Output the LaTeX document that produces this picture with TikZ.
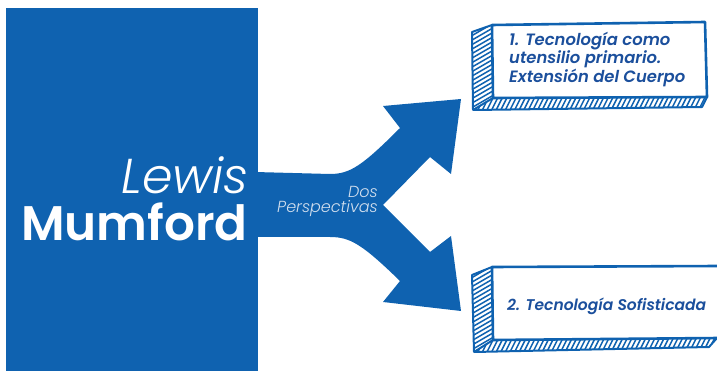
\documentclass[tikz,border=0pt]{standalone}
\usepackage{fontspec}
\setmainfont{Poppins}
\newfontfamily\lewisfont{Poppins Light Italic}
\newfontfamily\boldfont{Poppins SemiBold}
\newfontfamily\boxfont{Poppins SemiBold Italic}
\definecolor{mblue}{HTML}{0F62B0}
\definecolor{tblue}{HTML}{1B4F9C}
\definecolor{pale}{HTML}{D2DFEE}
\tikzset{
  sideline/.style={draw=mblue, line width=2pt, line join=round},
  hatch/.style={draw=mblue, line width=1.5pt},
  front/.style={draw=mblue, line width=2.6pt, line join=round, fill=white},
  boxtext/.style={font=\boxfont\fontsize{16.4}{16.6}\selectfont, text=tblue, align=left, inner sep=0pt, anchor=north west},
}
\begin{document}
\begin{tikzpicture}[x=1pt,y=-1pt]
\useasboundingbox (0,0) rectangle (717,371);
% main panel
\fill[mblue] (6,8) rectangle (258,371);
% forked arrow
\fill[mblue] (255,172) -- (330,174) .. controls (350,174) and (362,166) .. (400,128)
  -- (383,106) -- (461,99) -- (451,174) -- (430,157) -- (383,205) -- (430,252)
  -- (451,236) -- (461,311) -- (383,302) -- (400,281)
  .. controls (362,244) and (350,237) .. (330,237) -- (255,237) -- cycle;
% title
\node[anchor=base east, text=white, inner sep=0pt, font=\lewisfont\fontsize{49}{49}\selectfont] (lewis) at (249,194) {Lewis};
\node[anchor=base east, text=white, inner sep=0pt, font=\boldfont\fontsize{48.5}{48.5}\selectfont] (mumford) at (248,241) {Mumford};
% label
\node[anchor=north east, text=pale, inner sep=0pt, align=right, font=\lewisfont\fontsize{16}{15}\selectfont] (dos) at (378,186) {Dos\\Perspectivas};
% box 1
\begin{scope}
  \clip (492,25) -- (472,32) -- (473,110) -- (493,98) -- cycle;
  \foreach \i in {0,4.5,...,110} \draw[hatch] (460,20+\i) -- ++(45,-26);
\end{scope}
\begin{scope}
  \clip (493,98) -- (473,110) -- (702,107) -- (707,97) -- cycle;
  \foreach \i in {0,4.6,...,250} \draw[hatch] (462+\i,114) -- ++(10,-20);
\end{scope}
\path[sideline] (492,25) -- (472,32) -- (473,110) -- (702,107) -- (707,97);
\path[sideline] (473,110) -- (493,98);
\path[front] (492,25) -- (705,22) -- (707,97) -- (493,98) -- cycle;
\node[boxtext] (t1) at (509,32) {1. Tecnología como\\utensilio primario.\\Extensión del Cuerpo};
% box 2
\begin{scope}
  \clip (492,267) -- (472,275) -- (474,352) -- (493,340) -- cycle;
  \foreach \i in {0,4.5,...,110} \draw[hatch] (460,262+\i) -- ++(45,-26);
\end{scope}
\begin{scope}
  \clip (493,340) -- (474,352) -- (709,347) -- (717,338) -- cycle;
  \foreach \i in {0,4.6,...,260} \draw[hatch] (462+\i,356) -- ++(10,-20);
\end{scope}
\path[sideline] (492,267) -- (472,275) -- (474,352) -- (709,347) -- (717,338);
\path[sideline] (474,352) -- (493,340);
\path[front] (492,267) -- (719,266) -- (719,338) -- (493,340) -- cycle;
\node[boxtext, font=\boxfont\fontsize{15.5}{16}\selectfont, anchor=base west] (t2) at (507,310) {2. Tecnología Sofisticada};
\end{tikzpicture}
\end{document}
